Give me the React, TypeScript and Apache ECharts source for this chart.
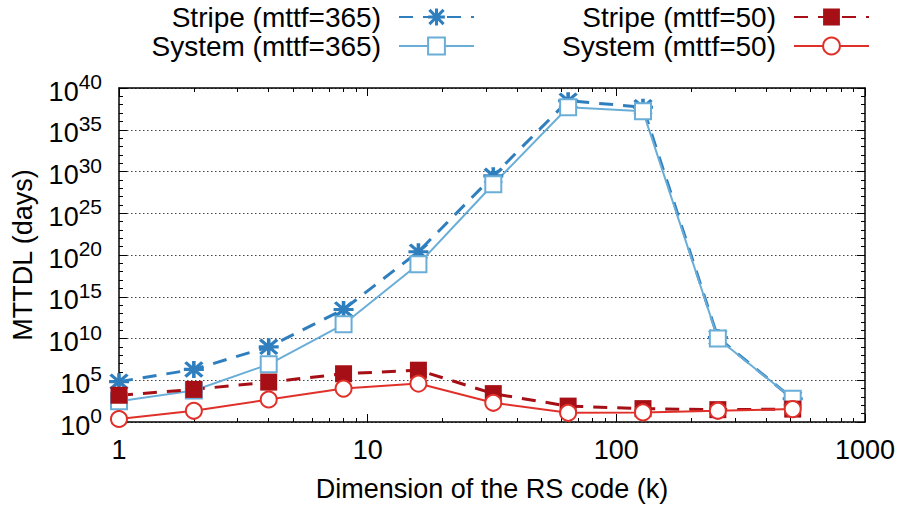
import React, { useEffect, useRef } from 'react';
import * as echarts from 'echarts';

const kValues = [1, 2, 4, 8, 16, 32, 64, 128, 256, 512];
const stripe365 = [6.8e4, 2e6, 1e9, 3e13, 2.5e20, 3e29, 3e38, 5e37, 1.3e10, 6e2];
const system365 = [3e2, 6e3, 8e6, 5e11, 8e18, 3e28, 5e37, 1.6e37, 1e10, 6e2];
const stripe50 = [1.6e3, 8e3, 6e4, 6e5, 1.6e6, 2.5e3, 80, 40, 30, 35];
const system50 = [2.3, 22, 500, 1e4, 4e4, 200, 12.6, 14, 22, 35];

const xMajor = [1, 10, 100, 1000];
const xMinor = [2, 3, 4, 5, 6, 7, 8, 9, 20, 30, 40, 50, 60, 70, 80, 90, 200, 300, 400, 500, 600, 700, 800, 900];
const yMajorExp = [0, 5, 10, 15, 20, 25, 30, 35, 40];
const yMinorExp = [1, 2, 3, 4, 6, 7, 8, 9, 11, 12, 13, 14, 16, 17, 18, 19, 21, 22, 23, 24, 26, 27, 28, 29, 31, 32, 33, 34, 36, 37, 38, 39];

const names = ['Stripe (mttf=365)', 'System (mttf=365)', 'Stripe (mttf=50)', 'System (mttf=50)'];

const FONT = '"Liberation Sans", Arial, Helvetica, sans-serif';
const ASTERISK =
  'path://M0 8.2H20V11.8H0Z M8.2 0H11.8V20H8.2Z M0.3 2.8L2.8 0.3L19.7 17.2L17.2 19.7Z M17.2 0.3L19.7 2.8L2.8 19.7L0.3 17.2Z';

function pairs(vals: number[]) {
  return kValues.map((k, i) => [k, vals[i]]);
}

function App() {
  const ref = useRef<HTMLDivElement>(null);
  useEffect(() => {
    const chart = echarts.init(ref.current!, null, { renderer: 'svg' });
    const yMajor = yMajorExp.map((e) => Math.pow(10, e));
    const yMinor = yMinorExp.map((e) => Math.pow(10, e));
    const baseX = {
      type: 'log' as const,
      logBase: 10,
      min: 1,
      max: 1000,
      splitLine: { show: false },
    };
    const baseY = {
      type: 'log' as const,
      logBase: 10,
      min: 1,
      max: 1e40,
    };
    const legendCommon = {
      align: 'right' as const,
      itemWidth: 75,
      itemHeight: 21,
      padding: 0,
      textStyle: { fontSize: 28, color: '#000', fontFamily: FONT, padding: [0, 13, 0, 0] },
      selectedMode: false,
    };
    const option: any = {
      animation: false,
      backgroundColor: '#fff',
      textStyle: { fontFamily: FONT },
      legend: [
        { ...legendCommon, data: [names[0]], right: 428, top: 3 },
        { ...legendCommon, data: [names[1]], right: 428, top: 32 },
        { ...legendCommon, data: [names[2]], right: 33, top: 3 },
        { ...legendCommon, data: [names[3]], right: 33, top: 32 },
      ],
      grid: { left: 119, right: 38, top: 88, bottom: 85 },
      xAxis: [
        {
          ...baseX,
          position: 'bottom',
          name: 'Dimension of the RS code (k)',
          nameLocation: 'middle',
          nameGap: 53,
          nameTextStyle: { fontSize: 27, color: '#000', fontFamily: FONT },
          axisLine: { show: true, lineStyle: { color: '#000', width: 1.5 } },
          axisTick: { show: true, inside: true, length: 8, customValues: xMajor, lineStyle: { color: '#000', width: 1 } },
          axisLabel: {
            customValues: xMajor,
            fontSize: 27,
            color: '#000',
            fontFamily: FONT,
            margin: 14,
            formatter: (v: number) => String(Math.round(v)),
          },
        },
        {
          ...baseX,
          position: 'bottom',
          axisLine: { show: false },
          axisTick: { show: true, inside: true, length: 4, customValues: xMinor, lineStyle: { color: '#000', width: 1 } },
          axisLabel: { show: false },
        },
        {
          ...baseX,
          position: 'top',
          axisLine: { show: true, lineStyle: { color: '#000', width: 1.5 } },
          axisTick: { show: true, inside: true, length: 8, customValues: xMajor, lineStyle: { color: '#000', width: 1 } },
          axisLabel: { show: false },
        },
        {
          ...baseX,
          position: 'top',
          axisLine: { show: false },
          axisTick: { show: true, inside: true, length: 4, customValues: xMinor, lineStyle: { color: '#000', width: 1 } },
          axisLabel: { show: false },
        },
      ],
      yAxis: [
        {
          ...baseY,
          position: 'left',
          name: 'MTTDL (days)',
          nameLocation: 'middle',
          nameGap: 83,
          nameRotate: 90,
          nameTextStyle: { fontSize: 27, color: '#000', fontFamily: FONT },
          axisLine: { show: true, lineStyle: { color: '#000', width: 1.5 } },
          axisTick: { show: true, inside: true, length: 8, customValues: yMajor, lineStyle: { color: '#000', width: 1 } },
          splitLine: { show: true, lineStyle: { color: '#444', width: 1, type: [1.5, 2.5] } },
          axisLabel: {
            customValues: yMajor,
            margin: 17,
            color: '#000',
            fontFamily: FONT,
            formatter: (v: number) => `{b|10}{s|${Math.round(Math.log10(v))}}`,
            rich: {
              b: { fontSize: 27, lineHeight: 27, padding: [7, 0, 0, 0], color: '#000', fontFamily: FONT },
              s: { fontSize: 21, lineHeight: 21, padding: [0, 0, 13, 0], color: '#000', fontFamily: FONT },
            },
          },
        },
        {
          ...baseY,
          position: 'left',
          axisLine: { show: false },
          axisTick: { show: true, inside: true, length: 4, customValues: yMinor, lineStyle: { color: '#000', width: 1 } },
          splitLine: { show: false },
          axisLabel: { show: false },
        },
        {
          ...baseY,
          position: 'right',
          axisLine: { show: true, lineStyle: { color: '#000', width: 1.5 } },
          axisTick: { show: true, inside: true, length: 8, customValues: yMajor, lineStyle: { color: '#000', width: 1 } },
          splitLine: { show: false },
          axisLabel: { show: false },
        },
        {
          ...baseY,
          position: 'right',
          axisLine: { show: false },
          axisTick: { show: true, inside: true, length: 4, customValues: yMinor, lineStyle: { color: '#000', width: 1 } },
          splitLine: { show: false },
          axisLabel: { show: false },
        },
      ],
      series: [
        {
          name: names[0],
          type: 'line',
          data: pairs(stripe365),
          symbol: ASTERISK,
          symbolSize: [20, 17],
          itemStyle: { color: '#2f7fbf' },
          lineStyle: { color: '#2f7fbf', width: 3, type: [14, 10] },
        },
        {
          name: names[1],
          type: 'line',
          data: pairs(system365),
          symbol: 'emptyRect',
          symbolSize: 16,
          itemStyle: { color: '#6aaed8', borderWidth: 2.2 },
          lineStyle: { color: '#6aaed8', width: 2 },
        },
        {
          name: names[2],
          type: 'line',
          data: pairs(stripe50),
          symbol: 'rect',
          symbolSize: 17,
          itemStyle: { color: '#a50f15' },
          lineStyle: { color: '#a50f15', width: 3, type: [14, 10] },
        },
        {
          name: names[3],
          type: 'line',
          data: pairs(system50),
          symbol: 'emptyCircle',
          symbolSize: 16,
          itemStyle: { color: '#e0302a', borderWidth: 2.2 },
          lineStyle: { color: '#e0302a', width: 2 },
        },
      ],
    };
    chart.setOption(option);
    return () => chart.dispose();
  }, []);
  return <div ref={ref} style={{ position: 'absolute', left: 0, top: 0, width: 903, height: 507 }} />;
}

export default App;
